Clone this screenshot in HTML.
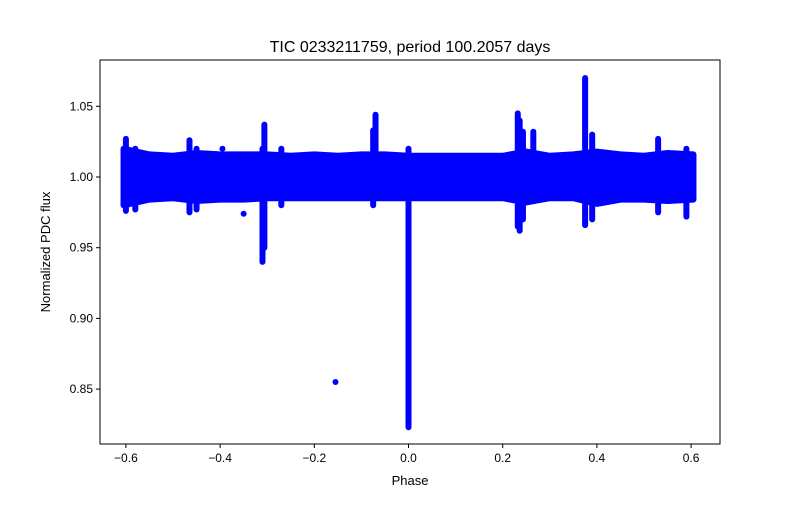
<!DOCTYPE html>
<html><head><meta charset="utf-8"><style>body{margin:0;background:#fff}svg{font-family:"Liberation Sans",sans-serif}</style></head>
<body>
<svg id="c" width="800" height="500" xmlns="http://www.w3.org/2000/svg"></svg>
<script>
const phases=[-0.605,-0.55,-0.5,-0.45,-0.4,-0.35,-0.3,-0.25,-0.2,-0.15,-0.1,-0.05,0,0.05,0.1,0.15,0.2,0.25,0.3,0.35,0.4,0.45,0.5,0.55,0.605];
const upper=[1.020,1.016,1.015,1.017,1.016,1.016,1.016,1.015,1.016,1.015,1.016,1.016,1.015,1.015,1.015,1.015,1.015,1.018,1.015,1.016,1.018,1.016,1.015,1.017,1.016];
const lower=[0.980,0.984,0.985,0.983,0.984,0.984,0.985,0.985,0.985,0.985,0.985,0.985,0.985,0.985,0.985,0.985,0.985,0.982,0.985,0.985,0.981,0.984,0.984,0.983,0.984];
const featPhase=[-0.6,-0.58,-0.31,-0.306,0.0,0.232,0.236,0.243,0.375,0.39,-0.075,-0.07,0.265,-0.465,-0.45,0.53,0.59,-0.27];
const featLo=[0.976,0.977,0.940,0.950,0.823,0.965,0.962,0.970,0.966,0.970,0.980,0.985,0.990,0.975,0.977,0.975,0.972,0.980];
const featHi=[1.027,1.020,1.020,1.037,1.020,1.045,1.040,1.032,1.070,1.030,1.033,1.044,1.032,1.026,1.020,1.027,1.020,1.020];
const ptPhase=[-0.155,-0.395,-0.35];
const ptVal=[0.855,1.020,0.974];
const xTicks=[-0.6,-0.4,-0.2,0.0,0.2,0.4,0.6];
const xLabels=["−0.6","−0.4","−0.2","0.0","0.2","0.4","0.6"];
const yTicks=[0.85,0.90,0.95,1.00,1.05];
const yLabels=["0.85","0.90","0.95","1.00","1.05"];
const L=100,R=720,T=60,B=444;
const X=p=>408.5+p*471;
const Y=v=>177-(v-1)*1414;
const svg=document.getElementById('c');const NS='http://www.w3.org/2000/svg';
function mk(t,a,parent){const e=document.createElementNS(NS,t);for(const k in a)e.setAttribute(k,a[k]);(parent||svg).appendChild(e);return e;}
const g=mk('g',{});


let pts=phases.map((p,i)=>X(p)+','+Y(upper[i])).concat(phases.map((p,i)=>X(p)+','+Y(lower[i])).reverse());
const band=mk('polygon',{points:pts.join(' '),fill:'#0000ff',stroke:'#0000ff','stroke-width':6,'stroke-linejoin':'round'},g);


featPhase.forEach((p,i)=>{const l=mk('line',{x1:X(p),x2:X(p),y1:Y(featLo[i]),y2:Y(featHi[i]),stroke:'#0000ff','stroke-width':6,'stroke-linecap':'round'},g);

});
ptPhase.forEach((p,i)=>{const c=mk('circle',{cx:X(p),cy:Y(ptVal[i]),r:3,fill:'#0000ff'},g);

});
const fr=mk('rect',{x:L,y:T,width:R-L,height:B-T,fill:'none',stroke:'#000','stroke-width':1});


xTicks.forEach((t,i)=>{mk('line',{x1:X(t),x2:X(t),y1:B,y2:B+4,stroke:'#000'});
const tx=mk('text',{x:X(t),y:B+18,'font-size':12,'text-anchor':'middle'});tx.textContent=xLabels[i];

});
yTicks.forEach((t,i)=>{mk('line',{x1:L-4,x2:L,y1:Y(t),y2:Y(t),stroke:'#000'});
const tx=mk('text',{x:L-7,y:Y(t)+4,'font-size':12,'text-anchor':'end'});tx.textContent=yLabels[i];

});
const ti=mk('text',{x:410,y:52,'font-size':16,'text-anchor':'middle'});ti.textContent='TIC 0233211759, period 100.2057 days';


const xt=mk('text',{x:410,y:485,'font-size':13,'text-anchor':'middle'});xt.textContent='Phase';


const yt=mk('text',{x:50,y:252,'font-size':13,'text-anchor':'middle',transform:'rotate(-90 50 252)'});yt.textContent='Normalized PDC flux';


</script>
</body></html>
